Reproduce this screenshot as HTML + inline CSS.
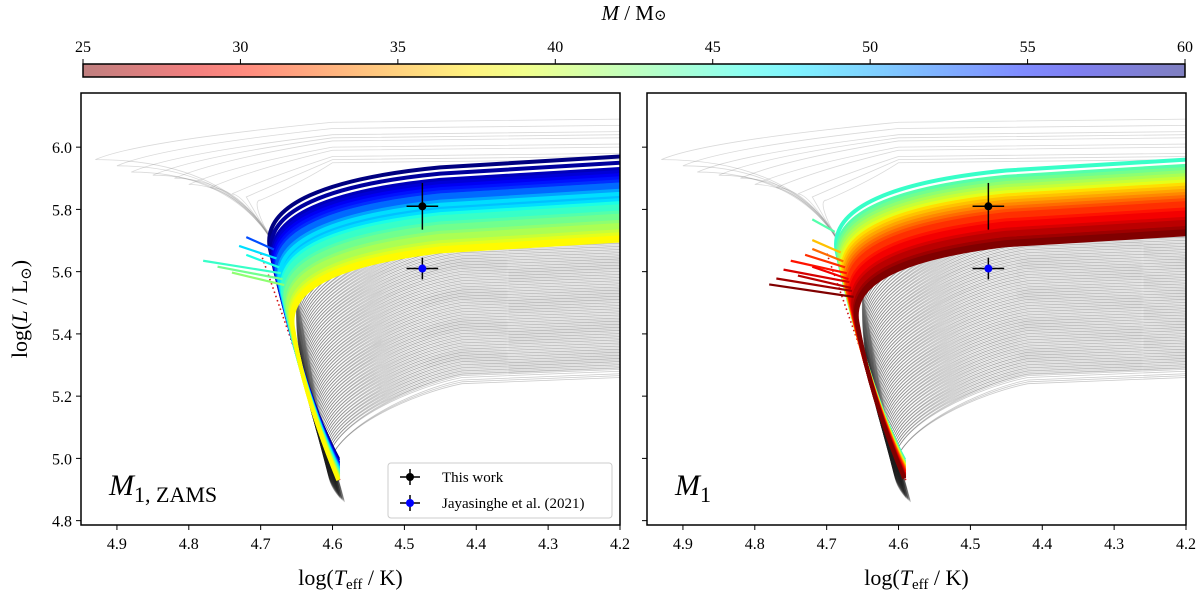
<!DOCTYPE html>
<html><head><meta charset="utf-8">
<style>
html,body{margin:0;padding:0;background:#fff;}
svg{display:block;font-family:"Liberation Serif","DejaVu Serif",serif;}
</style></head>
<body>
<svg id="chart" width="1200" height="594" viewBox="0 0 1200 594" xmlns="http://www.w3.org/2000/svg">
<defs>
<linearGradient id="cbgrad" x1="0" x2="1" y1="0" y2="0"></linearGradient>
<clipPath id="clipL"><rect x="81" y="93" width="539" height="432"/></clipPath>
<clipPath id="clipR"><rect x="647" y="93" width="539" height="432"/></clipPath>
</defs>
<g id="colorbar"></g>
<g id="panelL"></g>
<g id="panelR"></g>
</svg>
<script>
// ---- data ----
const xTicks = [4.9, 4.8, 4.7, 4.6, 4.5, 4.4, 4.3, 4.2];
const yTicks = [4.8, 5.0, 5.2, 5.4, 5.6, 5.8, 6.0];
const cbTicks = [25, 30, 35, 40, 45, 50, 55, 60];
// grey background tracks: plateau luminosity at the right edge
const greyEnd = [5.26,5.28,5.29,5.30,5.31,5.32,5.33,5.34,5.35,5.36,5.37,5.38,5.39,5.40,5.41,5.42,5.43,5.44,5.45,5.46,5.47,5.48,5.49,5.50,5.51,5.52,5.53,5.54,5.55,5.56,5.57,5.58,5.59,5.60,5.61,5.62,5.63,5.64,5.65,5.66,5.67,5.68,5.69,5.70,5.71,5.72,5.73,5.74,5.75,5.76,5.77,5.78,5.79,5.80,5.81,5.82,5.83,5.84,5.85,5.86];
// faint upper grey tracks (bluest extent, luminosity)
const upperBlue = [4.93,4.90,4.88,4.85,4.82,4.80,4.77,4.74,4.72,4.70];
const upperLum  = [6.08,6.06,6.04,6.03,6.02,6.00,5.99,5.97,5.96,5.95];
// coloured tracks, left panel (M1,ZAMS)
const massL = [38,38,39,39,40,40,41,41,42,42,43,43,44,44,45,45,46,46,47,48,48,49,50,51,52,52,53,54,55,56,57,58,59,60];
const lumL  = [5.70,5.71,5.71,5.72,5.72,5.73,5.74,5.75,5.76,5.75,5.77,5.78,5.79,5.78,5.80,5.81,5.80,5.82,5.81,5.83,5.85,5.84,5.86,5.85,5.87,5.88,5.88,5.89,5.90,5.91,5.92,5.93,5.95,5.97];
const hookL = [4.68,4.69,4.68,4.70,4.69,4.71,4.69,4.70,4.74,4.69,4.70,4.76,4.69,4.71,4.78,4.70,4.69,4.72,4.70,4.69,4.73,4.70,4.69,4.71,4.70,4.69,4.72,4.70,4.69,4.71,4.70,4.69,4.70,4.69];
// coloured tracks, right panel (M1)
const massR = [25,25,26,26,27,27,28,28,29,29,30,30,31,31,32,32,33,34,34,35,36,37,38,39,40,41,42,43,44,45];
const lumR  = [5.72,5.73,5.74,5.74,5.75,5.76,5.77,5.76,5.78,5.79,5.80,5.78,5.81,5.82,5.81,5.83,5.84,5.82,5.85,5.86,5.87,5.88,5.88,5.89,5.90,5.91,5.92,5.93,5.94,5.96];
const hookR = [4.78,4.70,4.77,4.69,4.74,4.70,4.76,4.69,4.72,4.70,4.75,4.69,4.71,4.73,4.70,4.69,4.72,4.70,4.69,4.71,4.72,4.70,4.69,4.70,4.71,4.69,4.70,4.69,4.72,4.70];
// observations
const obsX = [4.475, 4.475];
const obsY = [5.81, 5.61];
const obsXerr = [0.022, 0.022];
const obsYerr = [0.075, 0.035];
const obsColor = ['#000000', '#0000ff'];

const NS = 'http://www.w3.org/2000/svg';
function mk(tag, attrs, parent){const e=document.createElementNS(NS,tag);for(const k in attrs)e.setAttribute(k,attrs[k]);if(parent)parent.appendChild(e);return e;}
function jet(v){const c=x=>Math.max(0,Math.min(1,x));return [c(1.5-Math.abs(4*v-3)),c(1.5-Math.abs(4*v-2)),c(1.5-Math.abs(4*v-1))];}
function massColor(m){const t=(m-25)/35;const c=jet(1-t);return 'rgb('+c.map(v=>Math.round(v*255)).join(',')+')';}

// colorbar
const cbX0=83, cbX1=1185, cbY0=64, cbY1=77;
const grad=document.getElementById('cbgrad');
for(let i=0;i<=20;i++){const m=25+35*i/20;mk('stop',{offset:(i/20).toFixed(3),'stop-color':massColor(m)},grad);}
const cb=document.getElementById('colorbar');
const cbx=m=>cbX0+(m-25)/35*(cbX1-cbX0);
const cbr=mk('rect',{x:cbX0,y:cbY0,width:cbX1-cbX0,height:cbY1-cbY0,fill:'url(#cbgrad)','fill-opacity':0.5,stroke:'#000','stroke-width':1.5},cb);


cbTicks.forEach(t=>{
  mk('line',{x1:cbx(t),x2:cbx(t),y1:cbY0,y2:cbY0-5,stroke:'#000','stroke-width':1},cb);
  const tx=mk('text',{x:cbx(t),y:cbY0-12,'font-size':16,'text-anchor':'middle'},cb);
  tx.textContent=t;
  
  
});
const cbt=mk('text',{x:634,y:20,'font-size':21,'text-anchor':'middle'},cb);
cbt.innerHTML='<tspan font-style="italic">M</tspan> / M<tspan font-size="15">⊙</tspan>';



function drawPanel(g, x0, x1, clipId, masses, lums, hooks, sub, showY, showLegend){
  const y0=93, y1=525;
  const X=v=>x0+(4.95-v)/0.75*(x1-x0);
  const Y=v=>y0+(6.174-v)/1.388*(y1-y0);
  const data=mk('g',{'clip-path':'url(#'+clipId+')'},g);
  // upper faint grey tracks
  upperBlue.forEach((b,i)=>{
    const L=upperLum[i];
    const p=mk('path',{d:`M${X(4.66)},${Y(5.6)} Q${X(4.72)},${Y(L-0.12)} ${X(b)},${Y(L-0.12)} Q${X(b-0.06)},${Y(L-0.06)} ${X(4.6)},${Y(L)} L${X(4.2)},${Y(L+0.01)}`,fill:'none',stroke:'#777','stroke-opacity':0.28,'stroke-width':0.8},data);
    
    
  });
  // grey tracks: rise along the main sequence then bend redward
  greyEnd.forEach(L=>{
    const f=(L-5.26)/0.6;
    for(let k=0;k<3;k++){
      const dL=k*0.006;
      const ys=4.86+f*0.1+dL;
      const xs=4.583+f*0.012+k*0.003;
      const Lb=4.98+f*0.55;
      const xb=4.605+f*0.045;
      const d=`M${X(xs)},${Y(ys)} Q${X(xb+0.005)},${Y((ys+Lb)/2)} ${X(xb)},${Y(Lb)} C${X(xb-0.01)},${Y(Lb+0.12)} ${X(xb-0.12)},${Y(L+dL-0.05)} ${X(4.42)},${Y(L+dL-0.02)} L${X(4.2)},${Y(L+dL)}`;
      const p=mk('path',{d:d,fill:'none',stroke:'#222','stroke-opacity':0.24,'stroke-width':0.8},data);
      
      
    }
  });
  // dotted envelope
  const env=mk('path',{d:`M${X(4.59)},${Y(4.93)} Q${X(4.645)},${Y(5.3)} ${X(4.70)},${Y(5.66)}`,fill:'none',stroke:'#d01010','stroke-width':1.6,'stroke-dasharray':'1.5 3'},data);
  
  
  // coloured tracks: high mass first so low mass lies on top along the spine
  const idx=masses.map((m,i)=>i).sort((a,b)=>masses[b]-masses[a]);
  idx.forEach(i=>{
    const m=masses[i], L=lums[i], h=hooks[i];
    const c=massColor(m);
    const ys=4.93+(L-5.70)*0.25;
    const Lb=5.42+(L-5.70)*0.95;
    const xb=4.655+(L-5.70)*0.12;
    const d=`M${X(4.592)},${Y(ys)} Q${X(4.64)},${Y(5.2)} ${X(xb)},${Y(Lb)} C${X(xb+0.01)},${Y(Lb+0.14)} ${X(xb-0.08)},${Y(L-0.07)} ${X(4.45)},${Y(L-0.035)} L${X(4.2)},${Y(L)}`;
    const p=mk('path',{d:d,fill:'none',stroke:c,'stroke-width':4,'stroke-linejoin':'round'},data);
    
    
    if(h>4.715){
      const hk=mk('path',{d:`M${X(xb+0.005)},${Y(Lb+0.08)} L${X(h)},${Y(Lb+0.12)}`,fill:'none',stroke:c,'stroke-width':2.2},data);
      
      
    }
  });
  // frame
  const fr=mk('rect',{x:x0,y:y0,width:x1-x0,height:y1-y0,fill:'none',stroke:'#000','stroke-width':1.5},g);
  
  
  xTicks.forEach(t=>{
    mk('line',{x1:X(t),x2:X(t),y1:y1,y2:y1+5,stroke:'#000','stroke-width':1},g);
    const tx=mk('text',{x:X(t),y:y1+24,'font-size':16,'text-anchor':'middle'},g);
    tx.textContent=t.toFixed(1);
    
    
  });
  yTicks.forEach(t=>{
    mk('line',{x1:x0,x2:x0-5,y1:Y(t),y2:Y(t),stroke:'#000','stroke-width':1},g);
    if(showY){
      const tx=mk('text',{x:x0-9,y:Y(t)+6,'font-size':16,'text-anchor':'end'},g);
      tx.textContent=t.toFixed(1);
      
      
    }
  });
  const xl=mk('text',{x:(x0+x1)/2,y:585,'font-size':22,'text-anchor':'middle'},g);
  xl.innerHTML='log(<tspan font-style="italic">T</tspan><tspan font-size="15" dy="4">eff</tspan><tspan dy="-4"> / K)</tspan>';
  
  
  if(showY){
    const yl=mk('text',{x:0,y:0,'font-size':22,'text-anchor':'middle',transform:`translate(27,${(y0+y1)/2}) rotate(-90)`},g);
    yl.innerHTML='log(<tspan font-style="italic">L</tspan> / L<tspan font-size="15" dy="4">⊙</tspan><tspan dy="-4">)</tspan>';
    
    
  }
  const pl=mk('text',{x:x0+28,y:y1-30,'font-size':30},g);
  pl.innerHTML='<tspan font-style="italic">M</tspan><tspan font-size="22" dy="7">'+sub+'</tspan>';
  
  
  // observations
  obsX.forEach((ox,i)=>{
    const eg=mk('g',{},g);
    
    
    mk('line',{x1:X(ox-obsXerr[i]),x2:X(ox+obsXerr[i]),y1:Y(obsY[i]),y2:Y(obsY[i]),stroke:'#000','stroke-width':1.5},eg);
    mk('line',{x1:X(ox),x2:X(ox),y1:Y(obsY[i]-obsYerr[i]),y2:Y(obsY[i]+obsYerr[i]),stroke:'#000','stroke-width':1.5},eg);
    mk('circle',{cx:X(ox),cy:Y(obsY[i]),r:4,fill:obsColor[i]},eg);
  });
  if(showLegend){
    const lg=mk('g',{},g);
    
    
    mk('rect',{x:388,y:463,width:224,height:55,rx:3,fill:'#fff','fill-opacity':0.85,stroke:'#ccc','stroke-width':1},lg);
    ['This work','Jayasinghe et al. (2021)'].forEach((t,i)=>{
      const cy=477+i*26;
      const en=mk('g',{},lg);
      
      
      mk('line',{x1:400,x2:420,y1:cy,y2:cy,stroke:'#000','stroke-width':1.5},en);
      mk('line',{x1:410,x2:410,y1:cy-8,y2:cy+8,stroke:'#000','stroke-width':1.5},en);
      mk('circle',{cx:410,cy:cy,r:4,fill:obsColor[i]},en);
      const tx=mk('text',{x:442,y:cy+5,'font-size':15},en);
      tx.textContent=t;
    });
  }
}
drawPanel(document.getElementById('panelL'),81,620,'clipL',massL,lumL,hookL,'1, ZAMS',true,true);
drawPanel(document.getElementById('panelR'),647,1186,'clipR',massR,lumR,hookR,'1',false,false);
</script>
</body></html>
